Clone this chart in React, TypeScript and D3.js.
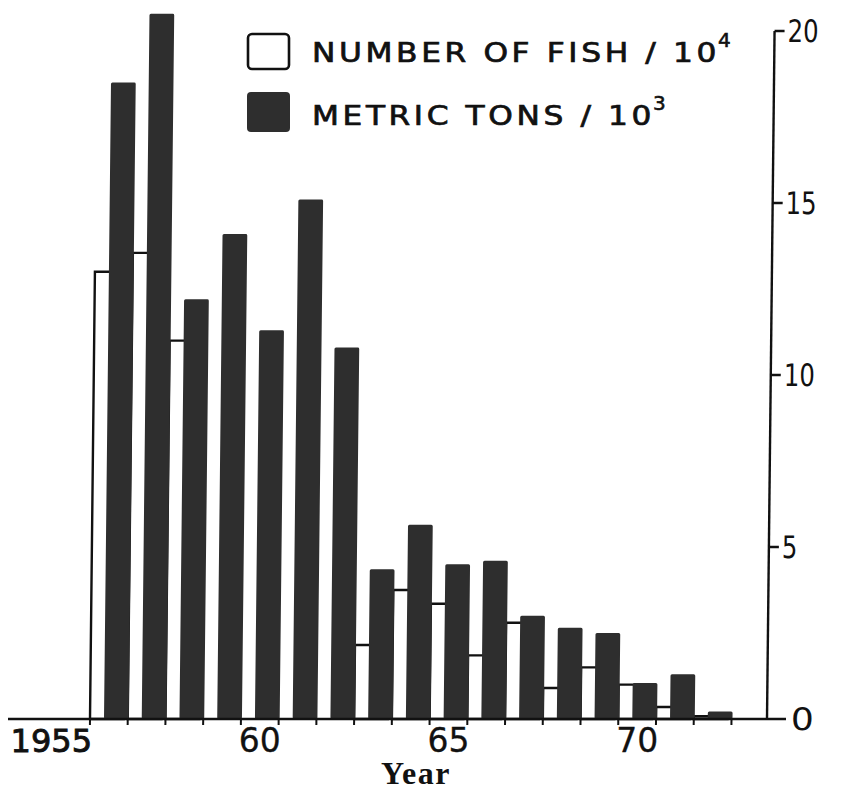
import React from "react";
import * as d3 from "d3";

const years = [1956, 1957, 1958, 1959, 1960, 1961, 1962, 1963, 1964, 1965, 1966, 1967, 1968, 1969, 1970, 1971, 1972];
const metricTons = [18.5, 20.5, 12.2, 14.1, 11.3, 15.1, 10.8, 4.35, 5.65, 4.5, 4.6, 3.0, 2.65, 2.5, 1.05, 1.3, 0.22];
const numberOfFish: (number | null)[] = [13.0, 13.55, 11.0, null, null, null, null, 2.15, 3.75, 3.35, 1.85, 2.8, 0.9, 1.5, 1.0, 0.35, 0.08];
const xLabels = [
  { year: 1955, text: "1955" },
  { year: 1960, text: "60" },
  { year: 1965, text: "65" },
  { year: 1970, text: "70" },
];
const yTicks = [0, 5, 10, 15, 20];
const legendItems = ["NUMBER OF FISH / 10", "METRIC TONS / 10"];
const legendSup = ["4", "3"];

export default function App() {
  const W = 843, H = 800;
  const baseY = 719;
  const x = d3.scaleLinear().domain([1956, 1973]).range([90, 731.5]);
  const y = d3.scaleLinear().domain([0, 20]).range([baseY, 31]);
  const axisX = 767;
  const bw = x(1957) - x(1956);
  const whiteW = 14;
  const ink = "#111";
  const dark = "#2e2e2e";
  const skew = `translate(0,${baseY}) skewX(-0.63) translate(0,${-baseY})`;
  const tickYears = d3.range(1956, 1974);

  return (
    <svg width={W} height={H} style={{ position: "absolute", left: 0, top: 0, background: "#fff" }}>
      <rect x={0} y={0} width={W} height={H} fill="#fff" />
      <g transform={skew}>
        {years.map((yr, i) => {
          const v = numberOfFish[i];
          if (v == null) return null;
          const x0 = x(yr);
          return (
            <rect key={"w" + yr} x={x0} y={y(v)} width={bw - 4} height={baseY - y(v)}
              fill="#fff" stroke={ink} strokeWidth={2.4} />
          );
        })}
        {years.map((yr, i) => {
          const v = metricTons[i];
          const x0 = x(yr) + whiteW;
          return (
            <rect key={"d" + yr} x={x0} y={y(v)} width={x(yr + 1) + 1 - x0} height={baseY - y(v)}
              rx={1.5} fill={dark} />
          );
        })}
        <line x1={8} x2={786} y1={baseY} y2={baseY} stroke={ink} strokeWidth={2.6} />
        {tickYears.map((t) => (
          <line key={"t" + t} x1={x(t)} x2={x(t)} y1={baseY} y2={baseY + 6} stroke={ink} strokeWidth={2} />
        ))}
        <line x1={axisX} x2={axisX} y1={baseY} y2={y(20)} stroke={ink} strokeWidth={2.4} />
        {yTicks.filter((t) => t > 0).map((t) => (
          <line key={"yt" + t} x1={axisX} x2={axisX + 10} y1={y(t)} y2={y(t)} stroke={ink} strokeWidth={2.4} />
        ))}
        {yTicks.map((t) => {
          const s = String(t);
          const isZero = t === 0;
          return (
            <text key={"yl" + t} x={axisX + (isZero ? 24 : 13)} y={y(t) + 11}
              fontFamily="DejaVu Sans" fontSize={31} fill={ink}
              textLength={isZero ? 23 : 15.5 * s.length} lengthAdjust="spacingAndGlyphs">
              {s}
            </text>
          );
        })}
      </g>
      {xLabels.map((l) =>
        l.year === 1955 ? (
          <text key={l.text} x={x(1956) + 2} y={752} textAnchor="end" fontFamily="DejaVu Sans"
            fontSize={32} fill={ink} stroke={ink} strokeWidth={0.9}>
            {l.text}
          </text>
        ) : (
          <text key={l.text} x={x(l.year + 0.5)} y={752} textAnchor="middle" fontFamily="DejaVu Sans"
            fontSize={33} fill={ink} stroke={ink} strokeWidth={0.3}>
            {l.text}
          </text>
        )
      )}
      <text x={416} y={784} textAnchor="middle" fontFamily="Liberation Serif" fontWeight="bold"
        fontSize={32} letterSpacing={1.5} fill={ink}>
        Year
      </text>
      <rect x={248} y={34} width={41} height={35} rx={4} fill="#fff" stroke={ink} strokeWidth={2.6} />
      <rect x={247} y={92} width={43} height={40} rx={4} fill={dark} />
      <text x={312} y={62} fontFamily="DejaVu Sans" fontSize={26} fill={ink} stroke={ink} strokeWidth={0.7}
        letterSpacing={3} textLength={408} lengthAdjust="spacingAndGlyphs">
        {legendItems[0]}
      </text>
      <text x={718} y={47} fontFamily="DejaVu Sans" fontSize={20} fill={ink} stroke={ink} strokeWidth={0.6}>
        {legendSup[0]}
      </text>
      <text x={312} y={125} fontFamily="DejaVu Sans" fontSize={26} fill={ink} stroke={ink} strokeWidth={0.7}
        letterSpacing={3} textLength={343} lengthAdjust="spacingAndGlyphs">
        {legendItems[1]}
      </text>
      <text x={653} y={110} fontFamily="DejaVu Sans" fontSize={20} fill={ink} stroke={ink} strokeWidth={0.6}>
        {legendSup[1]}
      </text>
    </svg>
  );
}
